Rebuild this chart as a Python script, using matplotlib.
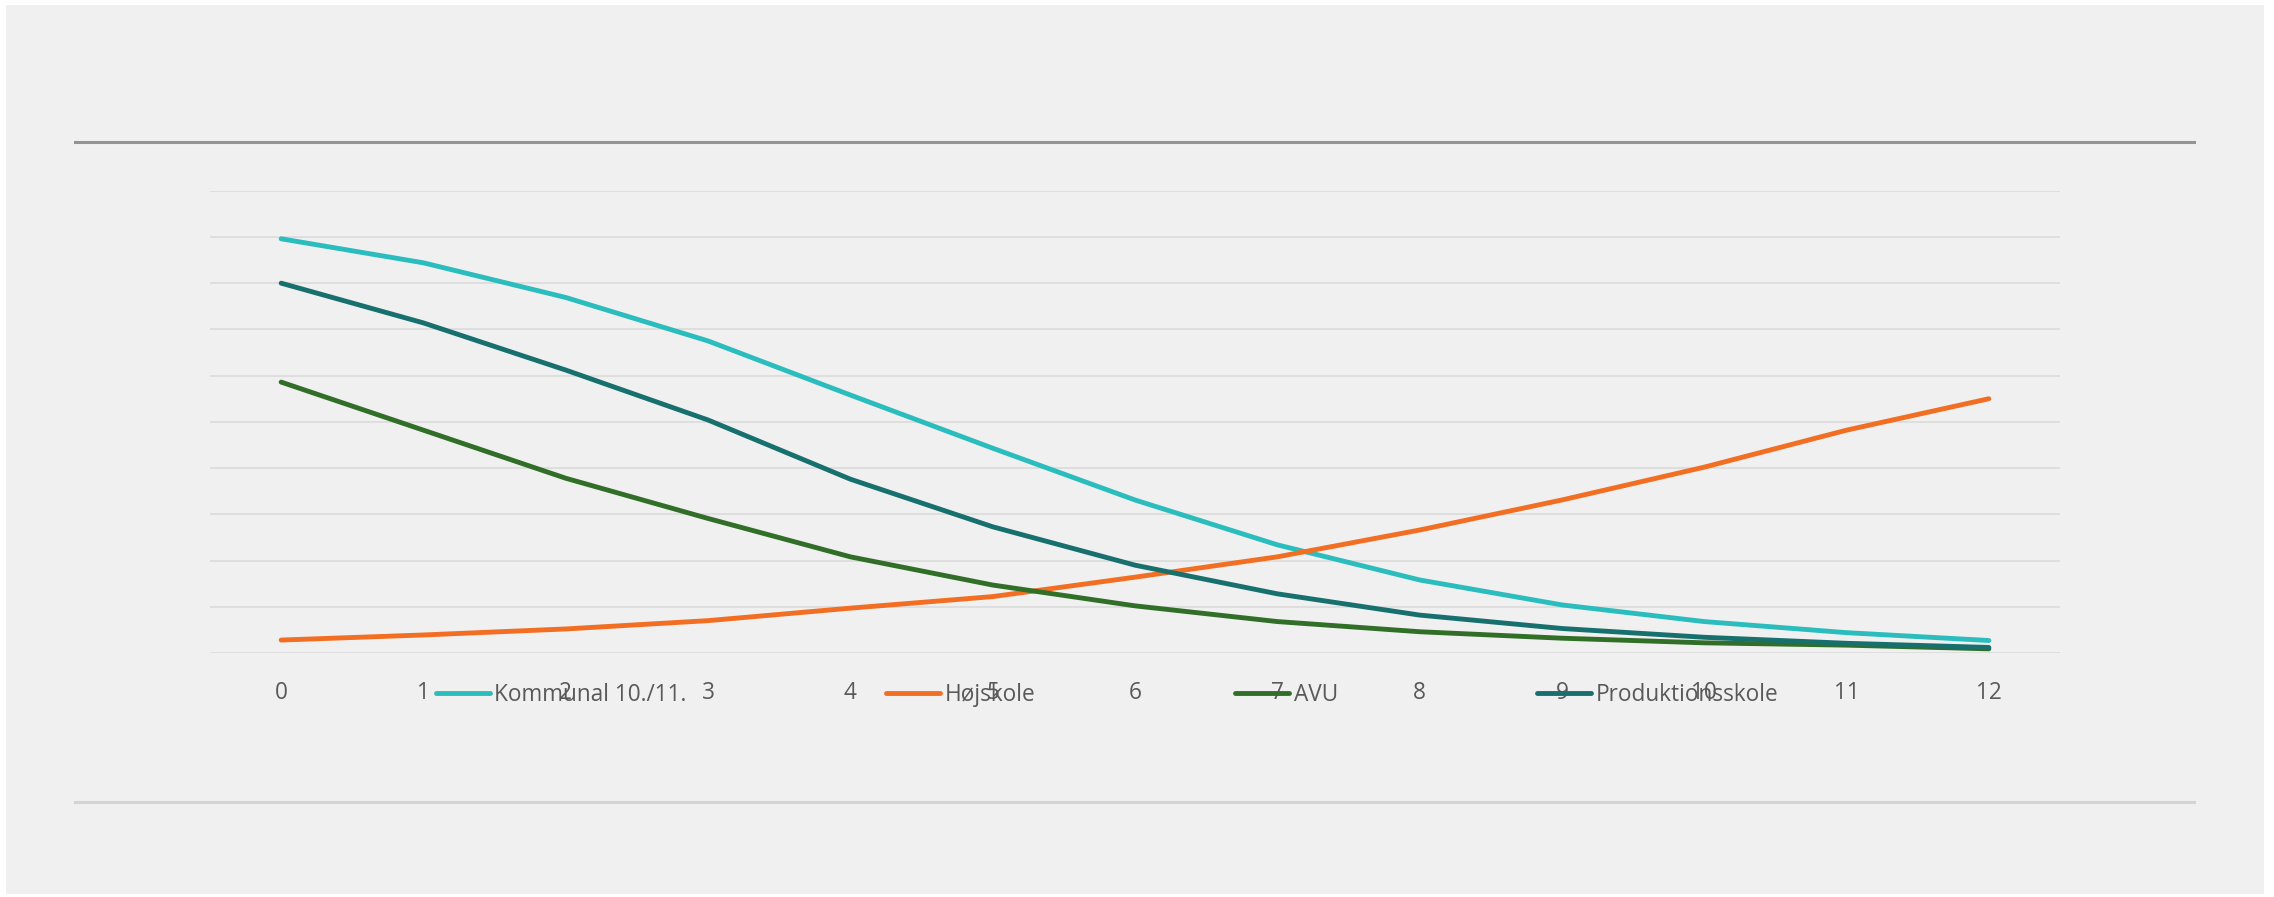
import matplotlib
matplotlib.use("Agg")
import matplotlib.pyplot as plt
from matplotlib.patches import Rectangle
from matplotlib.lines import Line2D

plt.rcParams['font.family'] = ['Open Sans', 'DejaVu Sans']

# ---- data ----
years = ["0", "1", "2", "3", "4", "5", "6", "7", "8", "9", "10", "11", "12"]
kommunal = [8.96, 8.44, 7.69, 6.75, 5.58, 4.43, 3.31, 2.34, 1.58, 1.04, 0.68, 0.44, 0.27]
hojskole = [0.28, 0.39, 0.52, 0.70, 0.97, 1.22, 1.64, 2.08, 2.66, 3.31, 4.02, 4.82, 5.50]
avu = [5.86, 4.82, 3.78, 2.91, 2.08, 1.47, 1.02, 0.68, 0.46, 0.32, 0.22, 0.17, 0.09]
produktion = [8.00, 7.14, 6.12, 5.04, 3.76, 2.73, 1.90, 1.28, 0.82, 0.53, 0.34, 0.21, 0.12]
series_names = ["Kommunal 10./11.", "Højskole", "AVU", "Produktionsskole"]
series_values = [kommunal, hojskole, avu, produktion]
series_colors = ["#2bbdbd", "#f26e22", "#316e28", "#17706e"]
y_ticks = list(range(0, 11))

W, H = 2274, 897
fig = plt.figure(figsize=(W / 100, H / 100), dpi=100, facecolor="white")

# gray panel
fig.patches.append(Rectangle((6 / W, 1 - 894 / H), (2264 - 6) / W, (894 - 5) / H,
                             transform=fig.transFigure, facecolor="#f0f0f0",
                             edgecolor="none", zorder=-10))
# top and bottom rules
fig.add_artist(Line2D([75 / W, 2194 / W], [1 - 142 / H] * 2, color="#939393", lw=2.2))
fig.add_artist(Line2D([75 / W, 2194 / W], [1 - 802 / H] * 2, color="#d4d4d4", lw=2.2))

ax = fig.add_axes([210 / W, 1 - 653 / H, (2060 - 210) / W, (653 - 190.7) / H])
ax.set_facecolor("none")
x = list(range(len(years)))
for name, vals, col in zip(series_names, series_values, series_colors):
    ax.plot(x, vals, color=col, lw=3.5, label=name, solid_capstyle="round",
            solid_joinstyle="round", clip_on=False, zorder=3)

ax.set_xlim(-0.5, len(years) - 0.5)
ax.set_ylim(0, 10)
ax.set_yticks(y_ticks)
ax.set_yticklabels([])
ax.set_xticks(x)
ax.set_xticklabels(years)
ax.tick_params(axis="both", length=0)
ax.tick_params(axis="x", labelsize=16.3, labelcolor="#595959", pad=20)
ax.grid(axis="y", color="#d9d9d9", lw=1.1, zorder=0)
ax.grid(axis="x", visible=False)
for s in ax.spines.values():
    s.set_visible(False)

leg = fig.legend(loc="center", bbox_to_anchor=(1107 / W, 1 - 695 / H), ncol=4,
                 frameon=False, fontsize=16.3, handlelength=2.4, handletextpad=0.2,
                 columnspacing=8.8, borderpad=0, labelcolor="#595959")

fig.savefig("out.png", dpi=100, facecolor="white")
